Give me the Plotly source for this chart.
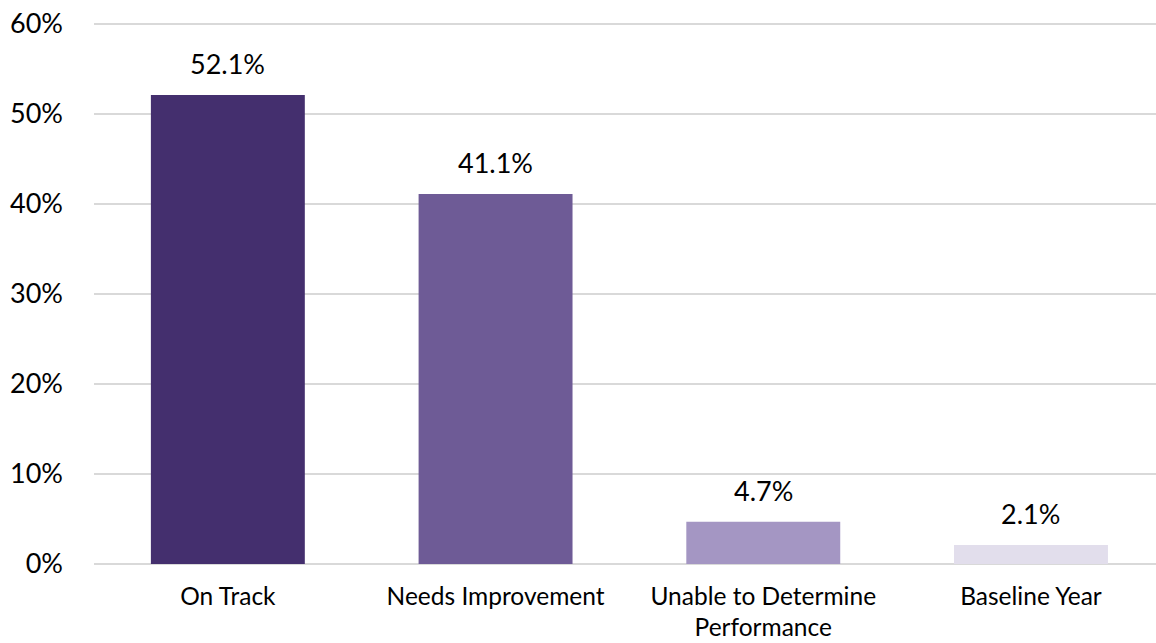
import plotly.graph_objects as go

categories = ["On Track", "Needs Improvement", "Unable to Determine<br>Performance", "Baseline Year"]
values = [52.1, 41.1, 4.7, 2.1]
labels = ["52.1%", "41.1%", "4.7%", "2.1%"]
colors = ["#442F6E", "#6E5B96", "#A496C3", "#E2DEEC"]
y_ticks = [0, 10, 20, 30, 40, 50, 60]

FONT = "Lato, 'Open Sans', sans-serif"

fig = go.Figure()
fig.add_trace(go.Bar(
    x=list(range(len(categories))),
    y=values,
    marker=dict(color=colors, line=dict(width=0)),
    width=0.575,
    hoverinfo="skip",
))

for i, (v, t) in enumerate(zip(values, labels)):
    fig.add_annotation(x=i, y=v, text=t, showarrow=False, yanchor="bottom",
                       yshift=13, font=dict(family=FONT, size=27, color="#000000"))

fig.update_layout(
    width=1156, height=643,
    margin=dict(l=94, r=0, t=15, b=79),
    plot_bgcolor="white", paper_bgcolor="white",
    showlegend=False,
    font=dict(family=FONT, color="#000000"),
    xaxis=dict(
        range=[-0.5, 3.467],
        tickmode="array",
        tickvals=list(range(len(categories))),
        ticktext=categories,
        showgrid=False, zeroline=False, showline=False,
        ticks="", tickfont=dict(size=24.5, family=FONT),
        ticklabelstandoff=15,
    ),
    yaxis=dict(
        range=[0, 61],
        tickmode="array",
        tickvals=y_ticks,
        ticktext=[f"{v}%" for v in y_ticks],
        showgrid=True, gridcolor="#D9D9D9", gridwidth=1.5,
        zeroline=True, zerolinecolor="#D9D9D9", zerolinewidth=1.5,
        showline=False, ticks="",
        tickfont=dict(size=27, family=FONT),
        ticklabelstandoff=30,
    ),
)

fig.write_html("out.html")
